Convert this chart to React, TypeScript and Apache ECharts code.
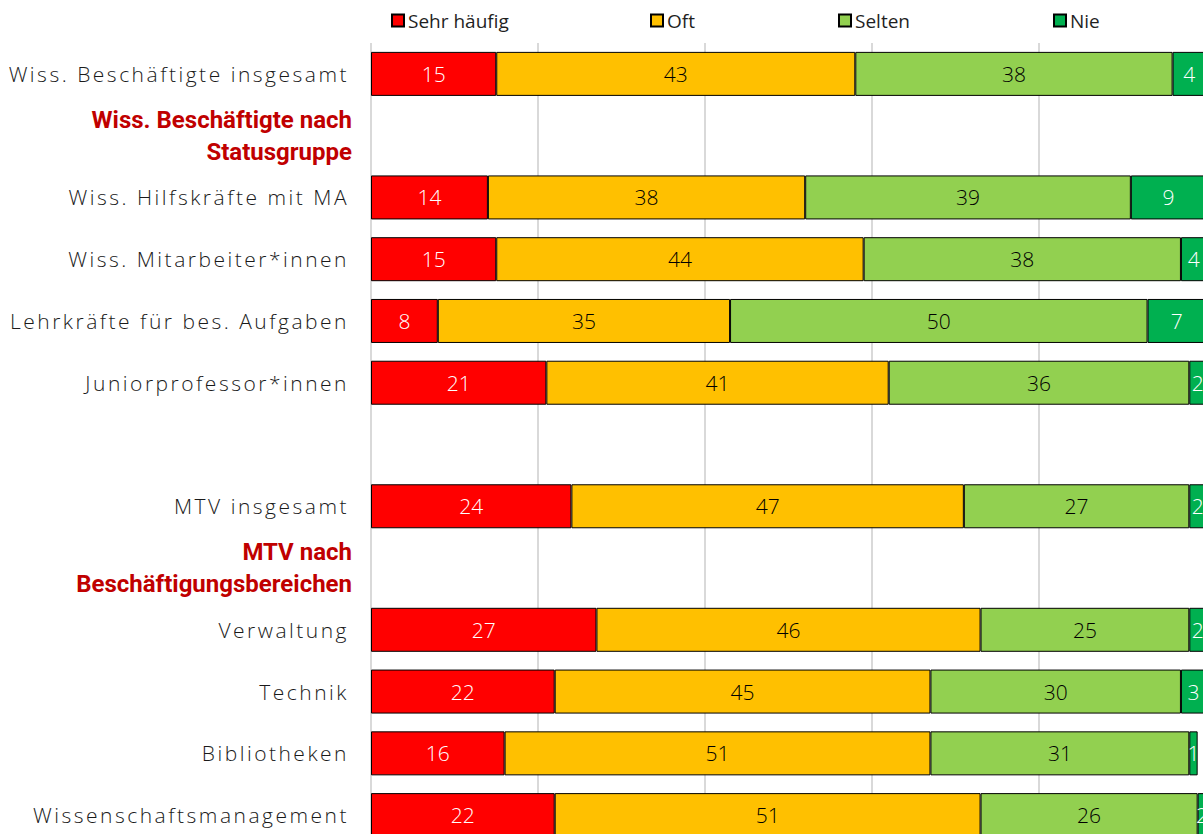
import React, { useEffect, useRef } from "react";
import * as echarts from "echarts";

const categories = [
  "Wiss. Beschäftigte insgesamt",
  "Wiss. Beschäftigte nach\nStatusgruppe",
  "Wiss. Hilfskräfte mit MA",
  "Wiss. Mitarbeiter*innen",
  "Lehrkräfte für bes. Aufgaben",
  "Juniorprofessor*innen",
  " ",
  "MTV insgesamt",
  "MTV nach\nBeschäftigungsbereichen",
  "Verwaltung",
  "Technik",
  "Bibliotheken",
  "Wissenschaftsmanagement",
];
const headers = [
  "Wiss. Beschäftigte nach\nStatusgruppe",
  "MTV nach\nBeschäftigungsbereichen",
];

const sehrHaeufig = [15, "-", 14, 15, 8, 21, "-", 24, "-", 27, 22, 16, 22];
const oft = [43, "-", 38, 44, 35, 41, "-", 47, "-", 46, 45, 51, 51];
const selten = [38, "-", 39, 38, 50, 36, "-", 27, "-", 25, 30, 31, 26];
const nie = [4, "-", 9, 4, 7, 2, "-", 2, "-", 2, 3, 1, 2];

const seriesDefs = [
  { name: "Sehr häufig", data: sehrHaeufig, color: "#FF0000", text: "#FFFFFF" },
  { name: "Oft", data: oft, color: "#FFC000", text: "#000000" },
  { name: "Selten", data: selten, color: "#92D050", text: "#000000" },
  { name: "Nie", data: nie, color: "#00B050", text: "#FFFFFF" },
];
const legendLefts = [391, 650, 838, 1053];

export default function App() {
  const ref = useRef<HTMLDivElement>(null);
  useEffect(() => {
    if (!ref.current) return;
    const el = ref.current;
    const chart = echarts.init(el, null, { renderer: "svg" });
    const plain = new Set(categories.filter((c) => !headers.includes(c) && c.trim()));
    const spaceLabels = () => {
      el.querySelectorAll("text").forEach((t) => {
        const s = (t.textContent || "").trim();
        if (plain.has(s)) (t as SVGTextElement).style.letterSpacing = "2.5px";
      });
    };
    chart.on("rendered", spaceLabels);
    chart.setOption({
      animation: false,
      backgroundColor: "#FFFFFF",
      legend: seriesDefs.map((s, i) => ({
        data: [s.name],
        left: legendLefts[i],
        top: 11,
        padding: 0,
        itemWidth: 12,
        itemHeight: 12,
        icon: "rect",
        textStyle: {
          fontFamily: "'Open Sans', sans-serif",
          fontSize: 19,
          color: "#1F1F1F",
          padding: [0, 0, 0, -1],
        },
      })),
      grid: { left: 371, top: 43, width: 835, height: 803, containLabel: false },
      xAxis: {
        type: "value",
        min: 0,
        max: 100,
        interval: 20,
        axisLabel: { show: false },
        axisLine: { show: false },
        axisTick: { show: false },
        splitLine: { show: true, lineStyle: { color: "#D9D9D9", width: 2 } },
      },
      yAxis: {
        type: "category",
        inverse: true,
        data: categories,
        axisLine: { show: false },
        axisTick: { show: false },
        axisLabel: {
          margin: 22,
          fontFamily: "'Open Sans', sans-serif",
          fontWeight: 300,
          fontSize: 21,
          color: "#1A1A1A",
          formatter: (v: string) =>
            headers.includes(v)
              ? v
                  .split("\n")
                  .map((l) => `{h|${l}}`)
                  .join("\n")
              : v,
          rich: {
            h: {
              fontFamily: "Roboto, sans-serif",
              fontWeight: "bold",
              fontSize: 24,
              color: "#C00000",
              lineHeight: 32,
              align: "right",
              padding: [0, -3, 0, 0],
            },
          },
        },
      },
      series: seriesDefs.map((s) => ({
        name: s.name,
        type: "bar",
        stack: "total",
        barWidth: 44,
        data: s.data,
        itemStyle: { color: s.color, borderColor: "#000000", borderWidth: 1 },
        label: {
          show: true,
          position: "inside",
          color: s.text,
          fontFamily: "'Open Sans', sans-serif",
          fontWeight: 300,
          fontSize: 21,
        },
      })),
    });
    spaceLabels();
    return () => chart.dispose();
  }, []);
  return (
    <div style={{ position: "absolute", left: 0, top: 0, width: 1203, height: 834, overflow: "hidden" }}>
      <div ref={ref} style={{ width: 1212, height: 852 }} />
    </div>
  );
}
